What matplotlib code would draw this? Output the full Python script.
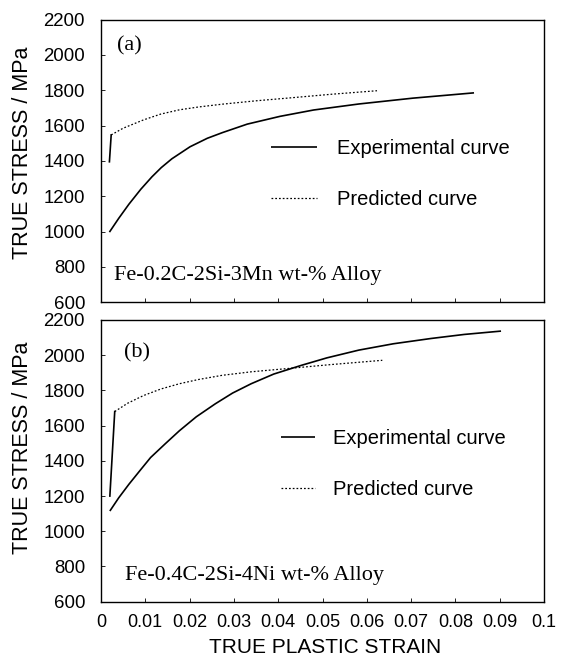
import matplotlib
matplotlib.use("Agg")
import matplotlib.pyplot as plt

# Panel (a): Fe-0.2C-2Si-3Mn
a_exp_strain = [0.0019, 0.0040, 0.0063, 0.0090, 0.0115, 0.0136, 0.0160, 0.0201,
                0.0240, 0.0274, 0.0330, 0.0404, 0.0480, 0.0582, 0.0704, 0.0842]
a_exp_stress = [997, 1075, 1155, 1240, 1310, 1362, 1412, 1480,
                1528, 1560, 1608, 1652, 1688, 1722, 1755, 1785]
a_pred_strain = [0.0019, 0.0023, 0.0050, 0.0096, 0.0135, 0.0177, 0.0220, 0.0274,
                 0.0350, 0.0420, 0.0520, 0.0623]
a_pred_stress = [1395, 1547, 1585, 1632, 1665, 1689, 1705, 1721,
                 1740, 1755, 1777, 1797]

# Panel (b): Fe-0.4C-2Si-4Ni
b_exp_strain = [0.0020, 0.0040, 0.0063, 0.0088, 0.0112, 0.0145, 0.0177, 0.0215,
                0.0258, 0.0297, 0.0339, 0.0390, 0.0453, 0.0510, 0.0582, 0.0660,
                0.0745, 0.0820, 0.0903]
b_exp_stress = [1115, 1190, 1267, 1345, 1419, 1497, 1571, 1650,
                1724, 1785, 1838, 1893, 1943, 1985, 2029, 2065,
                2095, 2118, 2137]
b_pred_strain = [0.0020, 0.0031, 0.0060, 0.0096, 0.0135, 0.0177, 0.0220, 0.0274,
                 0.0340, 0.0420, 0.0520, 0.0635]
b_pred_stress = [1200, 1680, 1727, 1771, 1808, 1838, 1862, 1886,
                 1906, 1924, 1947, 1971]

xticks = [0, 0.01, 0.02, 0.03, 0.04, 0.05, 0.06, 0.07, 0.08, 0.09, 0.1]
xticklabels = ["0", "0.01", "0.02", "0.03", "0.04", "0.05", "0.06", "0.07", "0.08", "0.09", "0.1"]
yticks = [600, 800, 1000, 1200, 1400, 1600, 1800, 2000, 2200]

panel_labels = ["(a)", "(b)"]
alloys = ["Fe-0.2C-2Si-3Mn wt-% Alloy", "Fe-0.4C-2Si-4Ni wt-% Alloy"]
legend_labels = ["Experimental curve", "Predicted curve"]

W, H = 564, 659
fig = plt.figure(figsize=(W / 100, H / 100), dpi=100)

sans = ["Liberation Sans", "DejaVu Sans"]
serif = ["Liberation Serif", "DejaVu Serif"]

def px_axes(left, top, right, bottom):
    return fig.add_axes([left / W, 1 - bottom / H, (right - left) / W, (bottom - top) / H])

ax_a = px_axes(101, 19.5, 544, 302.3)
ax_b = px_axes(101, 320, 544, 601.7)

dot = (0, (1.4, 1.6))

panels = [
    (ax_a, a_exp_strain, a_exp_stress, a_pred_strain, a_pred_stress,
     (0.035, 0.892), (0.029, 0.079), (0.384, 0.453), 2.3, 0.98, 0.53),
    (ax_b, b_exp_strain, b_exp_stress, b_pred_strain, b_pred_stress,
     (0.051, 0.868), (0.054, 0.077), (0.406, 0.488), 1.7, 0.9, 0.546),
]

for i, (ax, xs, ys, xp, yp, plab, alab, legpos, hl, htp, ylab_y) in enumerate(panels):
    l1, = ax.plot(xs, ys, color="black", lw=1.2, solid_capstyle="butt",
                  solid_joinstyle="round")
    ax.plot(xp[:2], yp[:2], color="black", lw=1.2)
    l2, = ax.plot(xp[1:], yp[1:], color="black", lw=0.9, linestyle=dot)
    ax.set_xlim(0, 0.1)
    ax.set_ylim(600, 2200)
    ax.set_xticks(xticks)
    ax.set_yticks(yticks)
    ax.set_yticklabels([str(v) for v in yticks], fontfamily=sans, fontsize=13.4)
    ax.tick_params(axis="both", direction="in", length=3, width=0.6, pad=11.5)
    for sp in ax.spines.values():
        sp.set_linewidth(1.0)
    ax.set_ylabel("TRUE STRESS / MPa", fontfamily=sans, fontsize=15.5)
    ax.yaxis.set_label_coords((33 - 101) / 443, ylab_y)
    ax.text(plab[0], plab[1], panel_labels[i], transform=ax.transAxes,
            fontfamily=serif, fontsize=16, va="baseline", ha="left")
    ax.text(alab[0], alab[1], alloys[i], transform=ax.transAxes,
            fontfamily=serif, fontsize=16, va="baseline", ha="left")
    ax.legend([l1, l2], legend_labels, loc="center left",
              bbox_to_anchor=legpos, frameon=False, borderpad=0,
              borderaxespad=0, handlelength=hl, handletextpad=htp,
              labelspacing=1.6, prop={"family": sans, "size": 14.5})

ax_a.set_xticklabels([])
ax_b.set_xticklabels(xticklabels, fontfamily=sans, fontsize=13)
ax_b.tick_params(axis="x", pad=9)
ax_b.set_xlabel("TRUE PLASTIC STRAIN", fontfamily=sans, fontsize=15)
ax_b.xaxis.set_label_coords(0.505, (601.7 - 638) / 281.7)

fig.savefig("out.png", dpi=100)
